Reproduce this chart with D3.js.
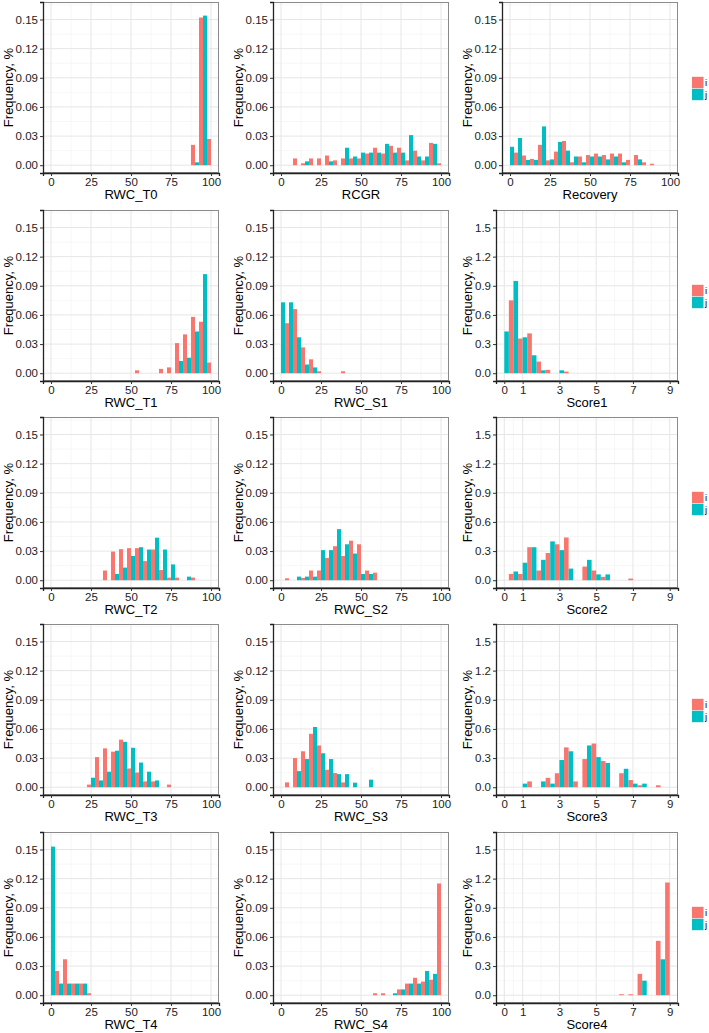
<!DOCTYPE html>
<html><head><meta charset="utf-8">
<script src="https://cdn.jsdelivr.net/npm/d3@7"></script>
<style>
body{margin:0;background:#fff;}
svg{display:block;font-family:"Liberation Sans",Arial,Helvetica,sans-serif;}
</style>
</head><body>
<svg id="chart" width="709" height="1033"></svg>
<script>
// ---------- data ----------
const seriesNames = ["i", "j"];
const seriesColors = ["#F8766D", "#00BFC4"];

const rwcBins = [0,5,10,15,20,25,30,35,40,45,50,55,60,65,70,75,80,85,90,95,100];
const scoreBins = [0,0.5,1,1.5,2,2.5,3,3.5,4,4.5,5,5.5,6,6.5,7,7.5,8,8.5,9];

const rwcXTicks = [0,25,50,75,100];
const scoreXTicks = [0,1,3,5,7,9];
const rwcYTicks = [0,0.03,0.06,0.09,0.12,0.15];
const scoreYTicks = [0,0.3,0.6,0.9,1.2,1.5];
const rwcYLabels = ["0.00","0.03","0.06","0.09","0.12","0.15"];
const scoreYLabels = ["0.0","0.3","0.6","0.9","1.2","1.5"];

//                 0     5     10    15    20    25    30    35    40    45    50    55    60    65    70    75    80    85    90    95    100
const rwcT0_i   = [0,    0,    0,    0,    0,    0,    0,    0,    0,    0,    0,    0,    0,    0,    0,    0,    0,    0,    0.021,0.152,0.027];
const rwcT0_j   = [0,    0,    0,    0,    0,    0,    0,    0,    0,    0,    0,    0,    0,    0,    0,    0,    0,    0,    0.003,0.154,0];
const rcgr_i    = [0,    0,    0.007,0.002,0.007,0.007,0.010,0.005,0.007,0.007,0.007,0.012,0.018,0.012,0.020,0.018,0.005,0.015,0.005,0.023,0.002];
const rcgr_j    = [0,    0,    0,    0.004,0,    0,    0.004,0,    0.018,0.009,0.013,0.013,0.013,0.022,0.013,0.013,0.031,0.009,0.009,0.022,0];
const recov_i   = [0,    0.013,0.010,0.0065,0.021,0.005,0.014,0.025,0.003,0.009,0.0105,0.012,0.0105,0.012,0.012,0.0055,0.0105,0.003,0.0015,0,  0];
const recov_j   = [0.019,0.028,0.0055,0.0055,0.040,0.006,0.024,0.015,0.009,0.003,0.009,0.009,0.006,0.009,0.003,0,    0.006,0,    0,    0,    0];
const rwcT1_i   = [0,    0,    0,    0,    0,    0,    0,    0,    0,    0,    0,    0.003,0,    0,    0.0045,0.006,0.031,0.040,0.058,0.053,0.011];
const rwcT1_j   = [0,    0,    0,    0,    0,    0,    0,    0,    0,    0,    0,    0,    0,    0,    0,    0,    0.0126,0.016,0.043,0.102,0];
const rwcS1_i   = [0,    0.0515,0.066,0.0266,0.0143,0.002,0,  0,    0.002,0,    0,    0,    0,    0,    0,    0,    0,    0,    0,    0,    0];
const rwcS1_j   = [0.073,0.073,0.037,0.009,0.006,0,    0,    0,    0,    0,    0,    0,    0,    0,    0,    0,    0,    0,    0,    0,    0];
const rwcT2_i   = [0,    0,    0,    0,    0,    0,    0,    0.010,0.0295,0.032,0.033,0.033,0.0197,0.0316,0.0105,0.0027,0.0027,0, 0.0027,0,  0];
const rwcT2_j   = [0,    0,    0,    0,    0,    0,    0,    0,    0.0065,0.013,0.025,0.034,0.0316,0.0438,0.0316,0.0163,0,   0.0037,0,  0,    0];
const rwcS2_i   = [0,    0.002,0,    0.0024,0.010,0.010,0.023,0.035,0.025,0.0407,0.037,0.010,0.0078,0, 0,    0,    0,    0,    0,    0,    0];
const rwcS2_j   = [0,    0,    0.0037,0.0037,0.0037,0.031,0.031,0.0526,0.037,0.0275,0.0064,0.0064,0,0,0,    0,    0,    0,    0,    0,    0];
const rwcT3_i   = [0,    0,    0,    0,    0,    0.0027,0.031,0.040,0.0366,0.049,0.0193,0.0152,0.006,0.006,0,0.0027,0,    0,    0,    0,    0];
const rwcT3_j   = [0,    0,    0,    0,    0,    0.0098,0.007,0.016,0.0376,0.0467,0.0406,0.0254,0.016,0.007,0, 0,    0,    0,    0,    0,    0];
const rwcS3_i   = [0,    0.005,0.030,0.037,0.055,0.043,0.018,0.0146,0.005,0,    0,    0,    0,    0,    0,    0,    0,    0,    0,    0,    0];
const rwcS3_j   = [0,    0,    0.0166,0.029,0.062,0.035,0.029,0.0135,0.0135,0.0047,0, 0.0078,0,   0,    0,    0,    0,    0,    0,    0,    0];
const rwcT4_i   = [0,    0.025,0.037,0.012,0.012,0.002,0,    0,    0,    0,    0,    0,    0,    0,    0,    0,    0,    0,    0,    0,    0];
const rwcT4_j   = [0.153,0.012,0.012,0.012,0.012,0,    0,    0,    0,    0,    0,    0,    0,    0,    0,    0,    0,    0,    0,    0,    0];
const rwcS4_i   = [0,    0,    0,    0,    0,    0,    0,    0,    0,    0,    0,    0,    0.002,0.002,0,    0.006,0.012,0.018,0.014,0.016,0.115];
const rwcS4_j   = [0,    0,    0,    0,    0,    0,    0,    0,    0,    0,    0,    0,    0,    0,    0.002,0.006,0.012,0.012,0.025,0.022,0];

//                 0     0.5   1     1.5   2     2.5   3     3.5   4     4.5   5     5.5   6     6.5   7     7.5   8     8.5   9
const score1_i  = [0,    0.75, 0.357,0.41, 0.12, 0.035,0,    0.017,0,    0,    0,    0,    0,    0,    0,    0,    0,    0,    0];
const score1_j  = [0.43, 0.95, 0.37, 0.185,0.03, 0,    0.03, 0,    0,    0,    0,    0,    0,    0,    0,    0,    0,    0,    0];
const score2_i  = [0,    0.065,0.065,0.34, 0.10, 0.28, 0.37, 0.44, 0,    0.14, 0.10, 0.035,0,    0,    0.017,0,    0,    0,    0];
const score2_j  = [0,    0.09, 0.18, 0.34, 0.21, 0.40, 0.31, 0.12, 0,    0.21, 0.06, 0.06, 0,    0,    0,    0,    0,    0,    0];
const score3_i  = [0,    0,    0,    0.06, 0,    0.097,0.144,0.41, 0.06, 0.29, 0.45, 0.27, 0,    0.144,0.074,0.02, 0,    0.02, 0];
const score3_j  = [0,    0,    0.037,0,    0.06, 0.037,0.28, 0.37, 0,    0.43, 0.31, 0.25, 0,    0.19, 0.037,0.037,0,    0,    0];
const score4_i  = [0,    0,    0,    0,    0,    0,    0,    0,    0,    0,    0,    0,    0,    0.01, 0.01, 0.22, 0,    0.56, 1.16];
const score4_j  = [0,    0,    0,    0,    0,    0,    0,    0,    0,    0,    0,    0,    0,    0,    0,    0.15, 0,    0.37, 0];

const panelTitles = ["RWC_T0","RCGR","Recovery","RWC_T1","RWC_S1","Score1",
                     "RWC_T2","RWC_S2","Score2","RWC_T3","RWC_S3","Score3",
                     "RWC_T4","RWC_S4","Score4"];
const panelKinds  = ["rwc","rwc","rwc","rwc","rwc","score",
                     "rwc","rwc","score","rwc","rwc","score",
                     "rwc","rwc","score"];
const panelSeries = [
  [rwcT0_i,rwcT0_j],[rcgr_i,rcgr_j],[recov_i,recov_j],
  [rwcT1_i,rwcT1_j],[rwcS1_i,rwcS1_j],[score1_i,score1_j],
  [rwcT2_i,rwcT2_j],[rwcS2_i,rwcS2_j],[score2_i,score2_j],
  [rwcT3_i,rwcT3_j],[rwcS3_i,rwcS3_j],[score3_i,score3_j],
  [rwcT4_i,rwcT4_j],[rwcS4_i,rwcS4_j],[score4_i,score4_j]
];

// ---------- layout ----------
const svg = d3.select("#chart");
const rowTops = [2, 210, 417, 624, 832];
const panelH = 171;
const colLeft = [43, 273, 502];
const colRight = [219, 449, 678];
const scoreLeft = 496;
const yTitleX = [8, 238, 467];

panelTitles.forEach((title, k) => {
  const row = Math.floor(k / 3), col = k % 3;
  const isScore = panelKinds[k] === "score";
  const left = isScore ? scoreLeft : colLeft[col];
  const right = colRight[col];
  const top = rowTops[row], bottom = top + panelH;

  const x = d3.scaleLinear().domain(isScore ? [-0.45, 9.45] : [-5, 105]).range([left, right]);
  const y = d3.scaleLinear().domain(isScore ? [-0.08, 1.68] : [-0.008, 0.168]).range([bottom, top]);
  const bins = isScore ? scoreBins : rwcBins;
  const bw = isScore ? 0.5 : 5;
  const xt = isScore ? scoreXTicks : rwcXTicks;
  const yt = isScore ? scoreYTicks : rwcYTicks;
  const yl = isScore ? scoreYLabels : rwcYLabels;
  const xMinor = isScore ? [0.5, 2, 4, 6, 8] : [12.5, 37.5, 62.5, 87.5];
  const yMinor = yt.map(v => v + (yt[1] - yt[0]) / 2);

  const g = svg.append("g");
  g.append("rect").attr("x", left).attr("y", top).attr("width", right - left).attr("height", panelH).attr("fill", "#fff");
  // minor grid
  g.selectAll(null).data(xMinor).enter().append("line")
    .attr("x1", d => x(d)).attr("x2", d => x(d)).attr("y1", top).attr("y2", bottom)
    .attr("stroke", "#F2F2F2").attr("stroke-width", 0.6);
  g.selectAll(null).data(yMinor.filter(v => y(v) > top)).enter().append("line")
    .attr("x1", left).attr("x2", right).attr("y1", d => y(d)).attr("y2", d => y(d))
    .attr("stroke", "#F2F2F2").attr("stroke-width", 0.6);
  // major grid
  g.selectAll(null).data(xt).enter().append("line")
    .attr("x1", d => x(d)).attr("x2", d => x(d)).attr("y1", top).attr("y2", bottom)
    .attr("stroke", "#E6E6E6").attr("stroke-width", 1);
  g.selectAll(null).data(yt).enter().append("line")
    .attr("x1", left).attr("x2", right).attr("y1", d => y(d)).attr("y2", d => y(d))
    .attr("stroke", "#E6E6E6").attr("stroke-width", 1);

  // bars (dodged: i left half of bin, j right half)
  panelSeries[k].forEach((vals, s) => {
    const data = bins.map((c, idx) => ({c, v: vals[idx]})).filter(d => d.v > 0);
    g.selectAll(null).data(data).enter().append("rect")
      .attr("x", d => s === 0 ? x(d.c - bw / 2) : x(d.c))
      .attr("width", d => x(d.c + bw / 2) - x(d.c))
      .attr("y", d => y(d.v))
      .attr("height", d => y(0) - y(d.v))
      .attr("fill", seriesColors[s]);
  });

  // border
  g.append("rect").attr("x", left + 0.5).attr("y", top + 0.5).attr("width", right - left - 1).attr("height", panelH - 1)
    .attr("fill", "none").attr("stroke", "#8A8A8A").attr("stroke-width", 1);

  // axes
  const xAxis = d3.axisBottom(x).tickValues(xt).tickSize(3).tickPadding(2).tickFormat(d3.format("d"));
  const gx = g.append("g").attr("transform", `translate(0,${bottom})`).call(xAxis);
  const yAxis = d3.axisLeft(y).tickValues(yt).tickSize(3).tickPadding(2).tickFormat((d, i) => yl[i]);
  const gy = g.append("g").attr("transform", `translate(${left},0)`).call(yAxis);
  [gx, gy].forEach(a => {
    a.select(".domain").attr("stroke", "#222").attr("stroke-width", 1.3);
    a.selectAll(".tick line").attr("stroke", "#333").attr("stroke-width", 1);
    a.selectAll(".tick text").attr("fill", "#222").style("font-size", "11.5px")
      .style("font-family", '"Liberation Sans",Arial,sans-serif');
  });

  // titles
  g.append("text").attr("x", (left + right) / 2).attr("y", bottom + 26)
    .attr("text-anchor", "middle").attr("fill", "#000").style("font-size", "13px").text(title);
  g.append("text").attr("transform", `translate(${yTitleX[col]},${top + panelH / 2}) rotate(-90)`)
    .attr("text-anchor", "middle").attr("dy", "0.35em").attr("fill", "#000").style("font-size", "13px")
    .text("Frequency, %");

  // legend in right column
  if (col === 2) {
    const cy = top + panelH / 2 + 1;
    const key = 12;
    seriesNames.forEach((nm, s) => {
      const ky = cy - key + s * key;
      g.append("rect").attr("x", 692).attr("y", ky + 0.3).attr("width", key - 0.5).attr("height", key - 0.6)
        .attr("fill", seriesColors[s]);
      g.append("text").attr("x", 705).attr("y", ky + key / 2).attr("dy", "0.35em")
        .attr("fill", "#000").style("font-size", "9.5px").text(nm);
    });
  }
});
</script>
</body></html>
